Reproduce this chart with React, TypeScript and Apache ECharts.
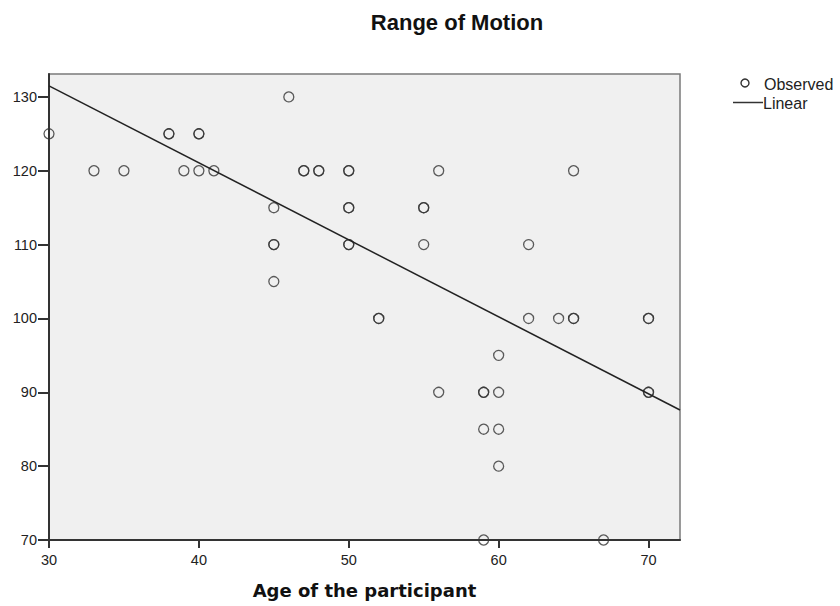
import React, { useEffect, useRef } from "react";
import * as echarts from "echarts";

const ages = [30, 33, 35, 38, 38, 39, 40, 40, 40, 41, 45, 45, 45, 45, 46, 47, 47, 48, 48, 50, 50, 50, 50, 50, 50, 52, 52, 55, 55, 55, 56, 56, 59, 59, 59, 59, 60, 60, 60, 60, 62, 62, 64, 65, 65, 65, 67, 70, 70, 70, 70];
const motion = [125, 120, 120, 125, 125, 120, 125, 125, 120, 120, 115, 110, 110, 105, 130, 120, 120, 120, 120, 120, 120, 115, 115, 110, 110, 100, 100, 115, 115, 110, 120, 90, 90, 90, 85, 70, 95, 90, 85, 80, 110, 100, 100, 100, 100, 120, 70, 100, 100, 90, 90];
const linearX = [30, 72.1];
const linearY = [131.5, 87.6];
const xTicks = [30, 40, 50, 60, 70];
const yTicks = [70, 80, 90, 100, 110, 120, 130];

const FONT = "Liberation Sans, Arial, sans-serif";
const WIDE = "DejaVu Sans, Verdana, sans-serif";

export default function App() {
  const ref = useRef<HTMLDivElement>(null);
  useEffect(() => {
    const chart = echarts.init(ref.current!, null, { renderer: "svg" });
    chart.setOption({
      animation: false,
      backgroundColor: "#fff",
      textStyle: { fontFamily: FONT },
      title: {
        text: "Range of Motion",
        left: 452,
        top: 6,
        textAlign: "center",
        textStyle: { fontSize: 22, fontWeight: "bold", color: "#111", fontFamily: FONT },
      },
      grid: {
        left: 49,
        right: 160,
        top: 74,
        bottom: 66,
        show: true,
        backgroundColor: "#f0f0f0",
        borderColor: "#7a7a7a",
        borderWidth: 1.5,
      },
      xAxis: {
        type: "value",
        min: 30,
        max: 72.1,
        name: "Age of the participant",
        nameLocation: "middle",
        nameGap: 41,
        nameTextStyle: { fontSize: 18, fontWeight: "bold", color: "#111", fontFamily: WIDE },
        splitLine: { show: false },
        axisLine: { show: true, lineStyle: { color: "#333", width: 2 } },
        axisTick: { show: true, length: 8, customValues: xTicks, lineStyle: { color: "#333", width: 2 } },
        axisLabel: { customValues: xTicks, fontSize: 14.5, color: "#222", margin: 12, fontFamily: FONT },
      },
      yAxis: {
        type: "value",
        min: 70,
        max: 133.1,
        splitLine: { show: false },
        axisLine: { show: true, lineStyle: { color: "#333", width: 2 } },
        axisTick: { show: true, length: 11, customValues: yTicks, lineStyle: { color: "#333", width: 2 } },
        axisLabel: { customValues: yTicks, fontSize: 14.5, color: "#222", margin: 12, fontFamily: FONT },
      },
      series: [
        {
          type: "scatter",
          name: "Observed",
          data: ages.map((a, i) => [a, motion[i]]),
          symbol: "circle",
          symbolSize: 10,
          clip: true,
          itemStyle: { color: "rgba(0,0,0,0)", borderColor: "#333", borderWidth: 1.3 },
        },
        {
          type: "line",
          name: "Linear",
          data: linearX.map((x, i) => [x, linearY[i]]),
          symbol: "none",
          lineStyle: { color: "#222", width: 1.5 },
        },
      ],
      graphic: [
        { type: "circle", shape: { cx: 745, cy: 83, r: 4 }, style: { fill: "none", stroke: "#333", lineWidth: 1.4 } },
        { type: "text", x: 764, y: 84, style: { text: "Observed", fontSize: 16, fill: "#222", fontFamily: FONT, verticalAlign: "middle" } },
        { type: "line", shape: { x1: 733, y1: 102.5, x2: 763, y2: 102.5 }, style: { stroke: "#333", lineWidth: 1.5 } },
        { type: "text", x: 763, y: 103, style: { text: "Linear", fontSize: 16, fill: "#222", fontFamily: FONT, verticalAlign: "middle" } },
      ],
    });
    return () => chart.dispose();
  }, []);
  return <div ref={ref} style={{ position: "fixed", left: 0, top: 0, width: 840, height: 606 }} />;
}
